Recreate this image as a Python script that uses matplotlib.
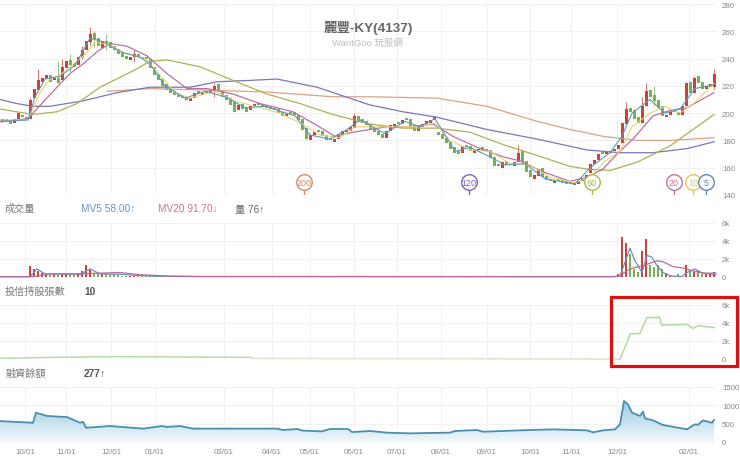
import numpy as np
import matplotlib
matplotlib.use("Agg")
import matplotlib.pyplot as plt
from matplotlib.colors import LinearSegmentedColormap
from matplotlib.patches import Rectangle

plt.rcParams['font.family'] = ['Liberation Sans', 'Noto Sans CJK TC', 'DejaVu Sans']

# x axis is in trading days, one candle every 2 days
tick_days = [12.5, 33, 55.5, 77.5, 112, 136, 155, 177, 198.5, 220.5, 243.5, 265, 285.5, 308.5, 344.5]
tick_labels = ['10/01', '11/01', '12/01', '01/01', '03/01', '04/01', '05/01', '06/01',
               '07/01', '08/01', '09/01', '10/01', '11/01', '12/01', '02/01']

closes = [195, 194, 192, 196, 200, 197, 196, 210, 218, 224,
          226, 228, 223, 226, 222, 234, 238, 235, 234, 241,
          246, 253, 258, 254, 249, 253, 251, 248, 246, 243,
          241, 240, 241, 243, 241, 240, 240, 233, 228, 224,
          220, 217, 215, 213, 212, 211, 210, 211, 215, 214,
          215, 215, 217, 220, 216, 212, 210, 206, 201, 206,
          203, 201, 205, 206, 206, 205, 204, 203, 202, 200,
          198, 199, 199, 199, 195, 188, 181, 184, 186, 186,
          183, 180, 180, 181, 185, 187, 187, 190, 198, 195,
          193, 191, 188, 186, 184, 182, 187, 191, 192, 192,
          195, 195, 190, 187, 191, 192, 194, 195, 197, 184,
          181, 178, 174, 171, 170, 176, 175, 172, 173, 174,
          172, 172, 167, 161, 161, 164, 162, 162, 164, 171,
          164, 157, 153, 155, 159, 153, 151, 150, 151, 150,
          149, 148, 148, 148, 150, 152, 155, 163, 166, 170,
          170, 171, 172, 174, 177, 193, 203, 201, 196, 193,
          205, 216, 212, 209, 204, 198, 199, 201, 201, 199,
          205, 222, 215, 226, 222, 218, 220, 221, 229]
opens = [194, 195, 194, 193, 196, 199, 197, 196, 211, 217,
         223, 225, 228, 224, 226, 224, 233, 239, 237, 235,
         241, 246, 252, 259, 255, 248, 253, 252, 249, 247,
         244, 242, 239, 241, 243, 241, 241, 240, 234, 229,
         225, 221, 218, 216, 214, 213, 212, 209, 211, 216,
         213, 216, 215, 217, 221, 217, 213, 211, 208, 202,
         207, 204, 202, 205, 207, 206, 206, 205, 204, 203,
         201, 198, 200, 200, 199, 196, 189, 180, 184, 187,
         187, 184, 182, 179, 181, 185, 186, 187, 189, 198,
         196, 194, 192, 189, 187, 185, 182, 187, 190, 193,
         192, 196, 196, 191, 187, 190, 192, 193, 195, 186,
         185, 182, 179, 175, 172, 171, 177, 176, 171, 172,
         175, 173, 173, 168, 163, 160, 165, 163, 161, 164,
         172, 165, 158, 152, 154, 160, 154, 152, 149, 152,
         151, 150, 149, 147, 148, 150, 152, 156, 163, 166,
         171, 170, 171, 172, 174, 178, 192, 204, 202, 197,
         193, 205, 217, 213, 210, 205, 197, 199, 202, 201,
         199, 205, 223, 215, 227, 223, 218, 219, 219]

# the long wicks only
wick_days = [15, 19, 29, 31, 35, 41, 45, 47, 53, 67, 107, 177, 259, 313, 321, 323, 327, 347, 357]
wick_high = [212, 232, 238, 240, 243, 249, 263, 260, 258, 246, 222, 200, 177, 208, 212, 222, 220, 227, 232]
wick_low = [204, 216, 222, 224, 230, 240, 250, 248, 246, 238, 212, 192, 165, 196, 196, 205, 205, 215, 218]

ma240_days = [53.5, 75, 100, 133.5, 166.5, 185, 218.5, 243.5, 268.5, 285, 301.5, 318.5, 335, 357]
ma240 = [216, 218, 217, 215.5, 212, 212, 211, 205, 194, 188, 183, 180, 180, 182]
ma120_days = [0, 8.5, 16.5, 25, 41.5, 58.5, 75, 95, 108.5, 125, 138.5, 158.5, 185, 201.5, 218.5, 243.5, 268.5, 293.5, 310, 326.5, 343.5, 357]
ma120 = [210, 207, 205, 205, 209, 215, 219, 219, 223, 224, 225, 219, 206, 201, 197, 188, 181, 173, 171, 171, 174, 179]
ma60_days = [0, 16.5, 28.5, 38.5, 50, 66.5, 75, 83.5, 100, 116.5, 133.5, 150, 166.5, 185, 201.5, 218.5, 235, 251.5, 268.5, 285, 293.5, 305, 318.5, 335, 357]
ma60 = [203, 199, 201, 207, 219, 231, 238, 239, 234, 224, 214, 207, 199, 192, 189, 189, 186, 177, 169, 161, 159, 158, 164, 176, 199]
ma20_days = [0, 14, 21.5, 28.5, 35, 41.5, 48.5, 55, 63.5, 73.5, 83.5, 93.5, 103.5, 116.5, 130, 146.5, 158.5, 167.5, 176.5, 185, 193.5, 206.5, 216.5, 226.5, 238.5, 251.5, 260, 271.5, 285, 293.5, 301.5, 308.5, 316.5, 326.5, 335, 343.5, 357]
ma20 = [193.5, 196, 208, 219, 229, 236, 245, 251, 249, 242, 229, 218, 218, 214, 207, 201, 191, 183, 186, 188, 190, 190, 192, 183, 175, 168, 165, 157, 150, 153, 159, 170, 181, 198, 202, 204, 215]
ma10_days = [0, 14, 20, 25, 30, 35, 42.5, 47.5, 55, 62.5, 72.5, 80, 87.5, 95, 107.5, 117.5, 127.5, 140, 150, 160, 170, 177.5, 185, 197.5, 210, 217.5, 225, 235, 245, 255, 265, 275, 287.5, 295, 302.5, 310, 316, 325, 332.5, 340, 347.5, 357]
ma10 = [195, 195, 215, 225, 228, 234, 243, 252, 250, 244, 240, 228, 215, 211, 216, 209, 205, 200, 193, 184, 182, 190, 190, 190, 190, 193, 180, 173, 172, 163, 162, 153, 149, 153, 165, 172, 190, 200, 205, 200, 208, 222]
ma5_days = [0, 14, 17.5, 22.5, 30, 37.5, 45, 52.5, 60, 70, 75, 82.5, 92.5, 102.5, 112.5, 122.5, 132.5, 147.5, 155, 165, 172.5, 180, 192.5, 202.5, 210, 217.5, 227.5, 235, 245, 252.5, 262.5, 272.5, 287.5, 295, 305, 311, 316, 325, 332.5, 340, 347.5, 357]
ma5 = [194, 195, 212, 225, 227, 235, 255, 252, 245, 241, 236, 220, 211, 216, 212, 204, 205, 198, 184, 181, 187, 195, 185, 194, 190, 196, 172, 175, 168, 162, 163, 152, 148, 160, 171, 183, 200, 210, 200, 203, 218, 221]

volume = [30, 30, 25, 30, 35, 30, 30, 1200, 900, 700,
          500, 300, 250, 300, 250, 300, 300, 350, 300, 400,
          700, 1300, 800, 500, 350, 300, 400, 300, 300, 200,
          150, 100, 120, 100, 150, 100, 80, 100, 120, 150,
          100, 80, 100, 60, 50, 40, 50, 40, 40, 40,
          40, 40, 30, 40, 30, 30, 30, 40, 50, 30,
          30, 30, 40, 30, 30, 30, 30, 30, 40, 30,
          30, 40, 30, 30, 90, 100, 80, 40, 30, 30,
          30, 30, 30, 30, 30, 40, 30, 40, 60, 40,
          30, 30, 30, 30, 30, 30, 30, 30, 30, 30,
          30, 30, 30, 30, 30, 30, 30, 30, 30, 30,
          30, 30, 30, 30, 30, 30, 30, 120, 130, 60,
          50, 40, 120, 150, 100, 100, 60, 50, 40, 30,
          30, 120, 60, 40, 40, 30, 30, 60, 30, 30,
          30, 30, 30, 40, 30, 30, 30, 30, 40, 60,
          50, 40, 50, 100, 300, 4500, 3800, 2600, 900, 600,
          2900, 4200, 1300, 1100, 1300, 900, 400, 200, 150, 300,
          150, 1300, 700, 600, 800, 300, 300, 400, 550]

mv5_days = [0, 15, 18.5, 21, 22.5, 40, 45, 50, 60, 75, 100, 307, 310, 315, 317.5, 321, 323.5, 326, 328.5, 331.5, 335, 337.5, 341, 343.5, 347.5, 351.5, 358]
mv5 = [30, 30, 900, 550, 350, 300, 900, 350, 300, 100, 40, 40, 100, 3200, 1800, 500, 2400, 2200, 1250, 500, 150, 80, 50, 500, 900, 400, 450]
mv20_days = [0, 16.5, 25, 40, 60, 70, 85, 100, 307, 310, 313.5, 316.5, 321.5, 328.5, 331.5, 336.5, 341.5, 346, 350, 358]
mv20 = [30, 30, 350, 350, 500, 250, 100, 60, 40, 150, 700, 1000, 1250, 1800, 1700, 1150, 1000, 700, 500, 250]

holding_days = [0, 26.5, 58.5, 125, 126.5, 310, 312.5, 315, 320, 323.5, 328.5, 329.5, 331, 343.5, 346.5, 349, 357]
holding = [70, 185, 260, 185, 70, 0, 1300, 2750, 2850, 4600, 4600, 4700, 3750, 3850, 3400, 3700, 3500]

margin_days = [0, 16.5, 18, 23.5, 33.5, 40, 41.5, 43, 55, 71.5, 81, 83.5, 90, 96.5, 116.5, 138.5, 141.5, 148.5, 151.5, 161, 165, 174, 176, 185, 193.5, 205, 225, 227.5, 238.5, 241.5, 260, 276.5, 293.5, 296.5, 301.5, 307.5, 310, 312, 314, 316, 320, 321.5, 322.5, 326.5, 331.5, 343.5, 346, 347.5, 349, 351.5, 356, 357]
margin = [570, 525, 800, 710, 680, 525, 550, 390, 435, 365, 435, 410, 435, 365, 365, 365, 327, 355, 310, 290, 355, 355, 270, 300, 255, 236, 255, 300, 327, 280, 318, 345, 318, 264, 318, 345, 480, 1118, 1027, 800, 710, 827, 645, 590, 464, 345, 436, 480, 470, 590, 525, 600]

badge_days = [152, 234.5, 296, 337, 346.5, 353]
badge_labels = ['200', '120', '60', '20', '10', '5']
badge_colors = ['#d98a6a', '#7a68b8', '#a9b84f', '#c4719c', '#e6c95a', '#5f86bd']

price_ticks = [140, 160, 180, 200, 220, 240, 260, 280]
k_ticks = [0, 2000, 4000, 6000]
k_labels = ['0', '2k', '4k', '6k']
margin_ticks = [0, 500, 1000, 1500]

RED = '#c9433a'
GREEN = '#78b152'
GRID = '#f1f1f1'
TICK = '#8a8a8a'

fig = plt.figure(figsize=(7.4, 4.6), dpi=100)


def panel(top, bottom):
    ax = fig.add_axes([0, 1 - bottom / 460, 716 / 740, (bottom - top) / 460])
    ax.set_xlim(0, 358)
    for s in ax.spines.values():
        s.set_visible(False)
    ax.set_axisbelow(True)
    ax.grid(color=GRID, lw=0.8)
    ax.set_xticks(tick_days)
    ax.set_xticklabels([])
    ax.yaxis.tick_right()
    ax.tick_params(length=0, labelsize=5.7, labelcolor=TICK, pad=4.3)
    return ax


# price panel
ax1 = panel(5, 196)
ax1.set_ylim(140, 280)
ax1.set_yticks(price_ticks)
days = np.arange(1, 359, 2)
o = np.array(opens)
c = np.array(closes)
colors = [RED if up else GREEN for up in c >= o]
color_by_day = dict(zip(days.tolist(), colors))
ax1.vlines(wick_days, wick_low, wick_high, colors=[color_by_day[d] for d in wick_days], lw=0.7, alpha=0.75, zorder=2)
ax1.bar(days, np.maximum(np.abs(c - o), 1.5), bottom=np.minimum(o, c), width=1.5, color=colors, zorder=3)
ax1.plot(ma240_days, ma240, color='#d9a387', lw=0.9, zorder=4)
ax1.plot(ma120_days, ma120, color='#7d75ba', lw=0.9, zorder=4)
ax1.plot(ma60_days, ma60, color='#aab354', lw=0.9, zorder=4)
ax1.plot(ma20_days, ma20, color='#b871a4', lw=0.9, zorder=4)
ax1.plot(ma10_days, ma10, color='#ecd273', lw=0.8, zorder=4)
ax1.plot(ma5_days, ma5, color='#5d9cbc', lw=0.8, zorder=4)
for d, lab, col in zip(badge_days, badge_labels, badge_colors):
    ax1.vlines(d, 140, 146, color=col, lw=1, zorder=5)
    ax1.scatter([d], [149.5], s=125, facecolor='white', edgecolor=col, linewidth=1, zorder=6)
    ax1.text(d, 149.5, lab, color=col, fontsize=6.5, ha='center', va='center', zorder=7)
fig.text(368 / 740, 1 - 28 / 460, '麗豐-KY(4137)', color='#666666', fontsize=9.7, fontweight='bold', ha='center', va='center')
fig.text(368 / 740, 1 - 43 / 460, 'WantGoo 玩股網', color='#bdbdbd', fontsize=6.8, ha='center', va='center')

# volume panel
ax2 = panel(224, 278)
ax2.set_ylim(0, 6000)
ax2.set_yticks(k_ticks)
ax2.set_yticklabels(k_labels)
ax2.bar(days, volume, width=0.9, color=colors, zorder=3)
ax2.plot(mv5_days, mv5, color='#6f8fc4', lw=0.9, zorder=4, clip_on=False)
ax2.plot(mv20_days, mv20, color='#b96a9c', lw=0.9, zorder=4, clip_on=False)

# holdings panel
ax3 = panel(306, 360)
ax3.set_ylim(0, 6000)
ax3.set_yticks(k_ticks)
ax3.set_yticklabels(k_labels)
ax3.plot(holding_days[:5], holding[:5], color='#b7dca8', lw=1.1, clip_on=False)
ax3.plot(holding_days[4:6], holding[4:6], color='#e3e5d8', lw=1.3, clip_on=False)
ax3.plot(holding_days[5:], holding[5:], color='#b7dca8', lw=1.2, clip_on=False)

# margin panel
ax4 = panel(388, 443)
ax4.set_ylim(0, 1500)
ax4.set_yticks(margin_ticks)
ax4.set_xticklabels(tick_labels)
ax4.tick_params(axis='x', labelsize=5.8, labelcolor=TICK, pad=4)
fill = ax4.fill_between(margin_days, margin, 0, color='none')
cmap = LinearSegmentedColormap.from_list('margin', ['#f1f8fb', '#9ccbe0'])
img = ax4.imshow(np.linspace(0, 1, 64).reshape(-1, 1), cmap=cmap, origin='lower', aspect='auto',
                 extent=(0, 358, 0, 1118), zorder=1)
img.set_clip_path(fill.get_paths()[0], transform=ax4.transData)
ax4.set_xlim(0, 358)
ax4.set_ylim(0, 1500)
ax4.plot(margin_days, margin, color='#4a90ad', lw=1.3, zorder=3)
ax4.axhline(0, color='#dfeaf0', lw=1)

# panel headers
head = dict(fontsize=7.3, va='center')
fig.text(5 / 740, 1 - 209 / 460, '成交量', color='#777777', **head)
fig.text(81 / 740, 1 - 209 / 460, 'MV5 58.00↑', color='#6f8fc9', **head)
fig.text(158 / 740, 1 - 209 / 460, 'MV20 91.70↓', color='#c9749a', **head)
fig.text(235 / 740, 1 - 209 / 460, '量 76↑', color='#666666', **head)
fig.text(5 / 740, 1 - 292 / 460, '投信持股張數', color='#777777', **head)
fig.text(84 / 740, 1 - 292 / 460, '10', color='#555555', fontweight='bold', **head)
fig.text(5 / 740, 1 - 374 / 460, '融資餘額', color='#777777', **head)
fig.text(84 / 740, 1 - 374 / 460, '277↑', color='#555555', fontweight='bold', **head)

# red highlight box
fig.add_artist(Rectangle((610.5 / 740, 1 - 366.5 / 460), 126.5 / 740, 69 / 460, transform=fig.transFigure,
                         fill=False, edgecolor='#d7120f', lw=2.3))

fig.savefig('out.png', dpi=100)
